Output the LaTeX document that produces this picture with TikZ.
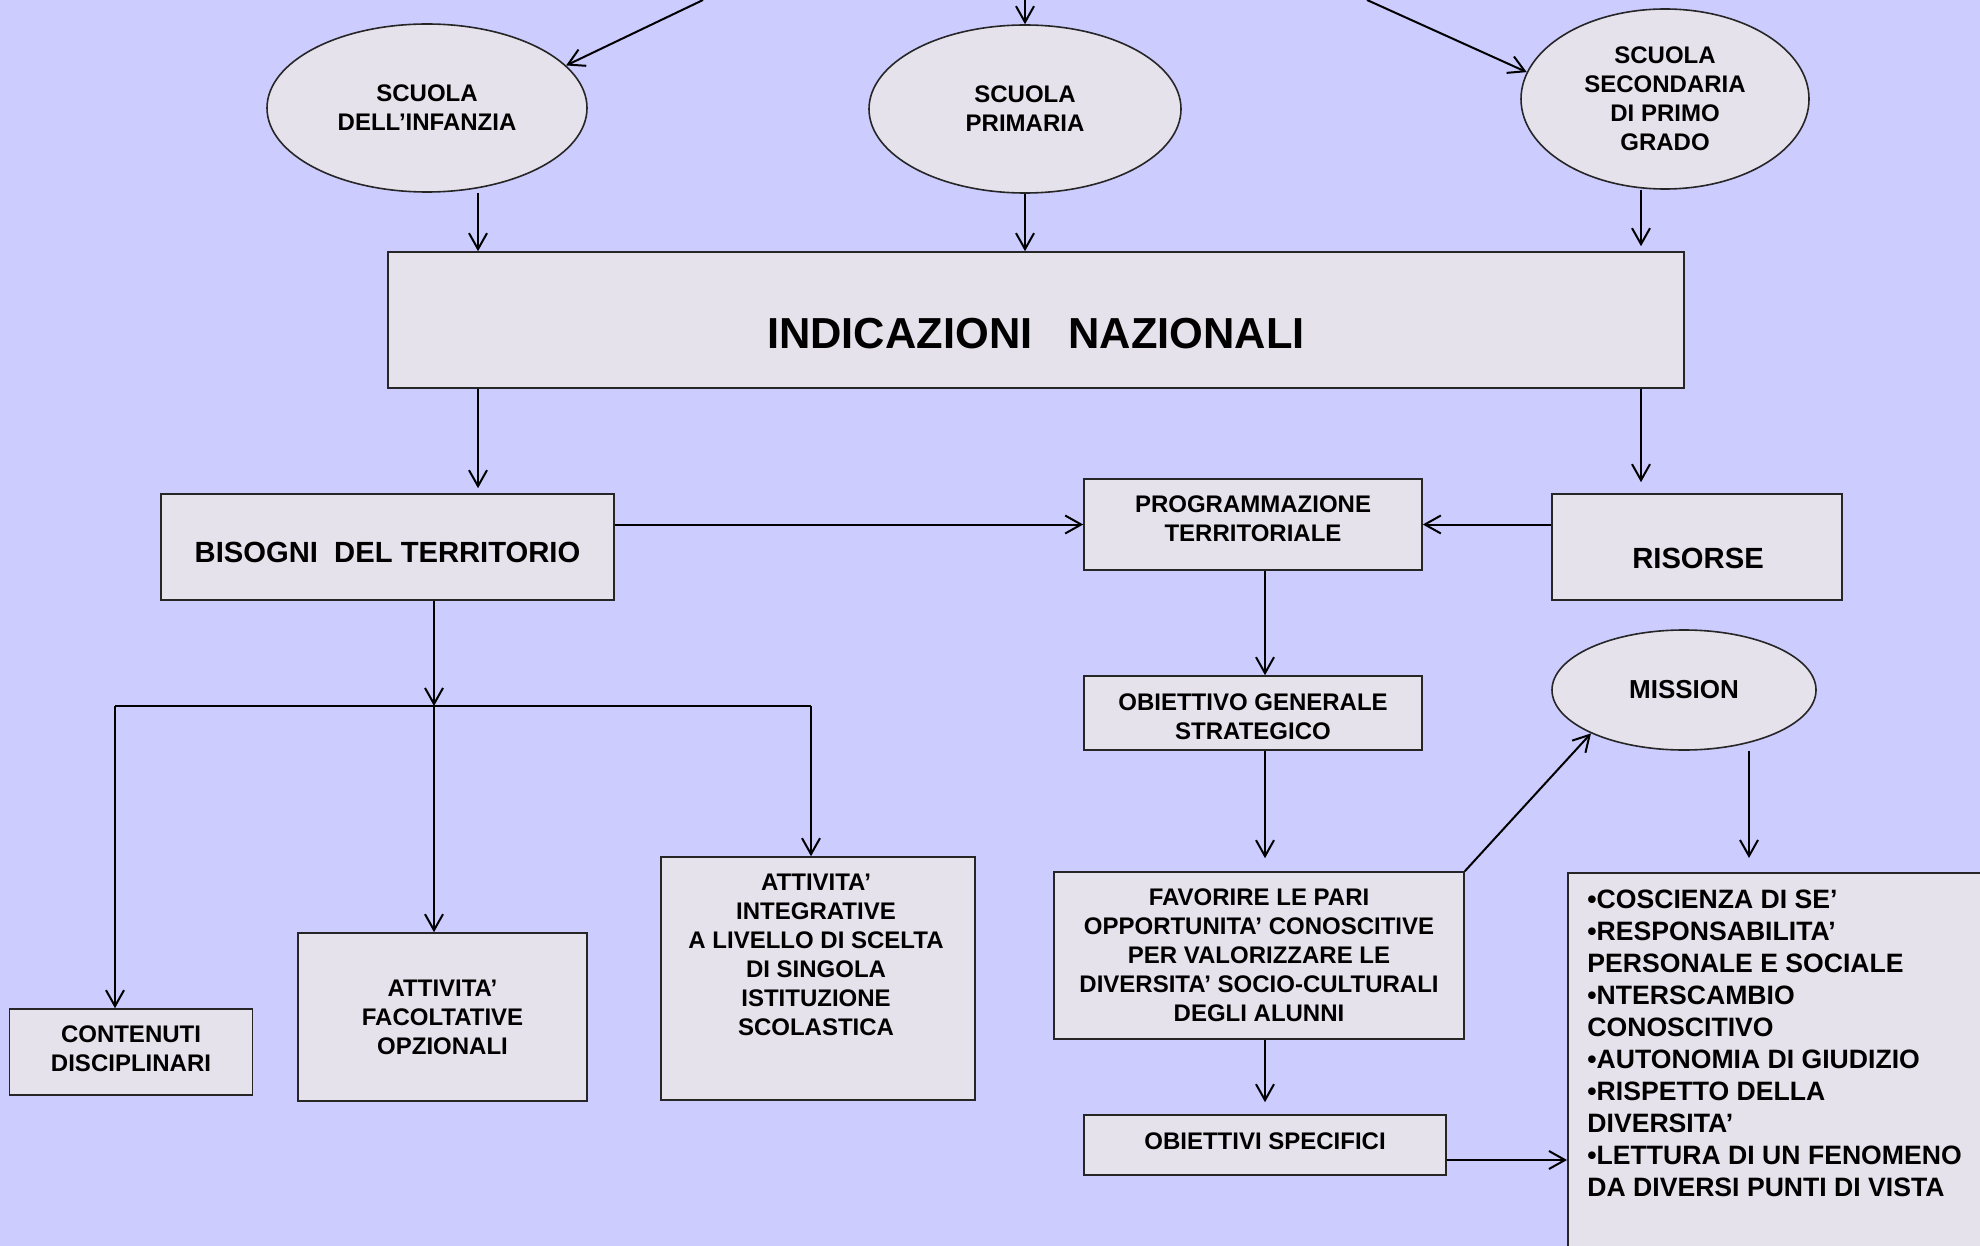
\documentclass[tikz,border=0pt]{standalone}
\usepackage{fontspec}
\setmainfont{Liberation Sans}
\usetikzlibrary{arrows.meta,shapes.geometric}
\definecolor{bgc}{RGB}{204,204,255}
\definecolor{boxc}{RGB}{230,226,236}
\begin{document}
\begin{tikzpicture}[x=0.5pt,y=-0.5pt,
  box/.style={draw=black!85, line width=0.8pt, fill=boxc, inner sep=0pt, align=center, font=\bfseries\fontsize{12}{14.5}\selectfont},
  oval/.style={box, ellipse},
  txt/.style={inner sep=0pt, align=center, font=\bfseries\fontsize{12}{14.5}\selectfont},
  medtxt/.style={txt, font=\bfseries\fontsize{14.6}{17}\selectfont},
  bigtxt/.style={txt, font=\bfseries\fontsize{21.7}{26}\selectfont},
  listtxt/.style={inner sep=0pt, align=left, font=\bfseries\fontsize{13.3}{16}\selectfont},
  arr/.style={-{Straight Barb[length=8pt,width=9pt,line width=1pt]}, line width=1pt},
  ln/.style={line width=1pt}]
\fill[bgc] (0,0) rectangle (1980,1246);
\useasboundingbox (0,0) rectangle (1980,1246);
\clip (0,0) rectangle (1980,1246);

% top ellipses
\node[oval, minimum width=160pt, minimum height=84pt] (inf) at (427,108) {SCUOLA\\DELL’INFANZIA};
\node[oval, minimum width=156pt, minimum height=84pt] (pri) at (1025,109) {SCUOLA\\PRIMARIA};
\node[oval, minimum width=144pt, minimum height=90pt] (sec) at (1665,99) {SCUOLA\\SECONDARIA\\DI PRIMO\\GRADO};

% main box
\node[box, minimum width=648pt, minimum height=68pt] (ind) at (1036,320) {};
\node[bigtxt] (indt) at (1036,334) {INDICAZIONI\ \ \ NAZIONALI};

% second row
\node[box, minimum width=226.5pt, minimum height=53pt] (bis) at (387.5,547) {};
\node[medtxt] (bist) at (387.5,552) {BISOGNI\ \ DEL TERRITORIO};
\node[box, minimum width=169pt, minimum height=45.5pt] (prog) at (1253,524.5) {};
\node[txt] (progt) at (1253,519) {PROGRAMMAZIONE\\TERRITORIALE};
\node[box, minimum width=145pt, minimum height=53pt] (ris) at (1697,547) {};
\node[medtxt] (rist) at (1698,558) {RISORSE};

% right column
\node[box, minimum width=169pt, minimum height=37pt] (obg) at (1253,713) {};
\node[txt] (obgt) at (1253,717) {OBIETTIVO GENERALE\\STRATEGICO};
\node[oval, minimum width=132pt, minimum height=60pt, font=\bfseries\fontsize{13}{15}\selectfont] (mis) at (1684,690) {MISSION};
\node[box, minimum width=205pt, minimum height=83.5pt] (fav) at (1259,955.5) {FAVORIRE LE PARI\\OPPORTUNITA’ CONOSCITIVE\\PER VALORIZZARE LE\\DIVERSITA’ SOCIO-CULTURALI\\DEGLI ALUNNI};
\node[box, minimum width=181pt, minimum height=30pt] (obs) at (1265,1145) {};
\node[txt] (obst) at (1265,1141) {OBIETTIVI SPECIFICI};
\node[box, anchor=north west, minimum width=220pt, minimum height=200pt] (lst) at (1567,872) {};
\node[listtxt, anchor=north west] (lstt) at (1587,890) {•COSCIENZA DI SE’\\•RESPONSABILITA’\\PERSONALE E SOCIALE\\•NTERSCAMBIO\\CONOSCITIVO\\•AUTONOMIA DI GIUDIZIO\\•RISPETTO DELLA\\DIVERSITA’\\•LETTURA DI UN FENOMENO\\DA DIVERSI PUNTI DI VISTA};

% bottom left
\node[box, minimum width=121.5pt, minimum height=43pt] (cont) at (131,1052) {};
\node[txt] (contt) at (131,1049) {CONTENUTI\\DISCIPLINARI};
\node[box, minimum width=144.5pt, minimum height=84pt] (fac) at (442.5,1017) {ATTIVITA’\\FACOLTATIVE\\OPZIONALI};
\node[box, minimum width=157pt, minimum height=121.5pt] (int) at (818,978.5) {};
\node[txt] (intt) at (816,955) {ATTIVITA’\\INTEGRATIVE\\A LIVELLO DI SCELTA\\DI SINGOLA\\ISTITUZIONE\\SCOLASTICA};

% connectors
\coordinate (t1) at (703,0);
\coordinate (t2) at (1025,0);
\coordinate (t3) at (1367,0);
\draw[arr] (t1) -- (inf.17);
\draw[arr] (t2) -- (pri.north);
\draw[arr] (t3) -- (sec.169);

\coordinate (x1) at (478,0);
\coordinate (x3) at (1641,0);
\draw[arr] (inf.south -| x1) -- (ind.north -| x1);
\draw[arr] (pri.south) -- (ind.north -| pri.south);
\draw[arr, shorten >=2.5pt] (sec.south -| x3) -- (ind.north -| x3);
\draw[arr, shorten >=2.5pt] (ind.south -| x1) -- (bis.north -| x1);
\draw[arr, shorten >=5.5pt] (ind.south -| x3) -- (ris.north -| x3);

\draw[arr] (prog.west -| bis.east) -- (prog.west);
\draw[arr] (prog.east -| ris.west) -- (prog.east);
\coordinate (xc) at (1265,0);
\draw[arr] (prog.south -| xc) -- (obg.north -| xc);
\draw[arr, shorten >=6.5pt] (obg.south -| xc) -- (fav.north -| xc);
\draw[arr, shorten >=6pt] (fav.south -| xc) -- (obs.north -| xc);
\draw[arr] (fav.north east) -- (mis.205);
\coordinate (xm) at (1749,0);
\draw[arr, shorten >=7pt] (mis.south -| xm) -- (lst.north -| xm);
\coordinate (os) at ([yshift=-7.5pt]obs.east);
\draw[arr] (os) -- (os -| lst.west);

\coordinate (jn) at (434,706);
\coordinate (jl) at (115,706);
\coordinate (jr) at (811,706);
\draw[arr] (bis.south -| jn) -- (jn);
\draw[ln] (jl) -- (jr);
\draw[arr] (jl) -- (jl |- cont.north);
\draw[arr] (jn) -- (jn |- fac.north);
\draw[arr] (jr) -- (jr |- int.north);
\end{tikzpicture}
\end{document}
